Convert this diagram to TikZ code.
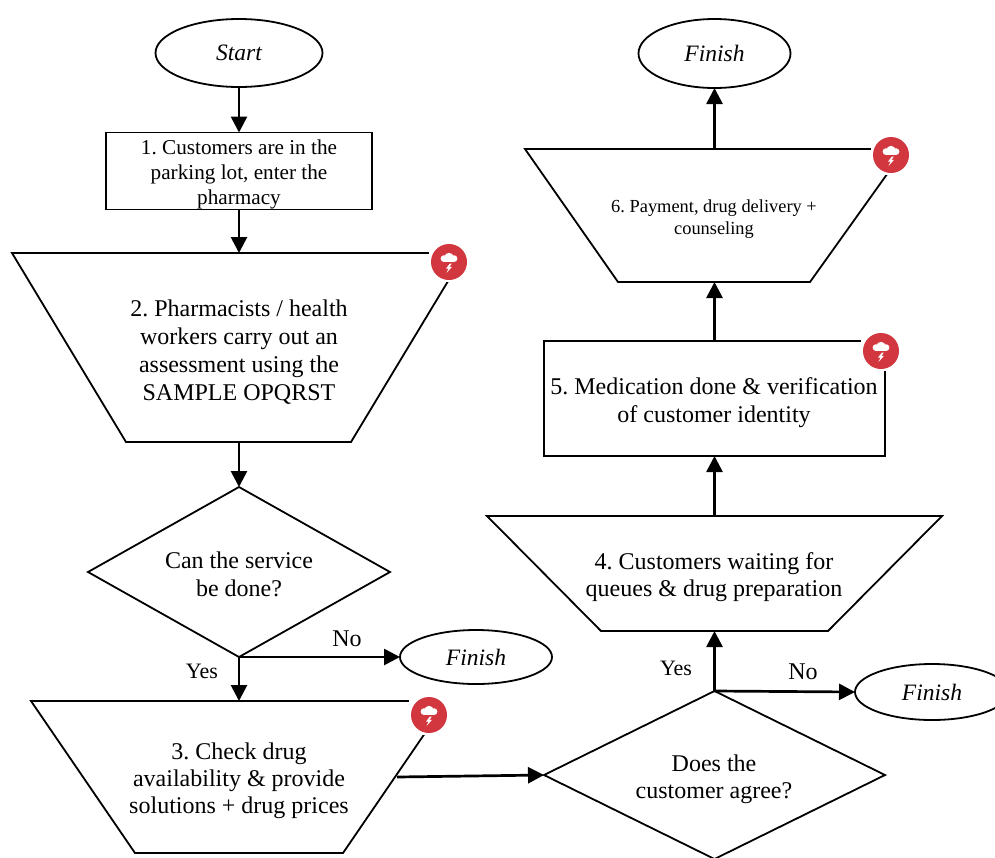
\documentclass[tikz,border=0pt]{standalone}
\usepackage{fontspec}
\setmainfont{Liberation Serif}
\usetikzlibrary{shapes.geometric,arrows.meta}
\definecolor{ICON}{HTML}{D2363E}
\frenchspacing
\tikzset{
  shapeline/.style={draw=black,line width=1.8pt,line join=miter},
  base/.style={align=center,inner sep=0pt,outer sep=0pt,font=\fontsize{24}{28}\selectfont},
  oval/.style={base,ellipse,shapeline,fill=white,font=\fontsize{23.5}{27}\selectfont\itshape},
  boxnode/.style={base,rectangle,shapeline,fill=white},
  choice/.style={base,diamond,shapeline,fill=white},
  zone/.style={base,rectangle},
  flow/.style={line width=2.7pt,-{Triangle[length=16pt,width=16pt]}},
  lab/.style={inner sep=0pt,font=\fontsize{22}{24}\selectfont},
  nolab/.style={inner sep=0pt,font=\fontsize{24}{26}\selectfont},
}
\newcommand{\riskicon}[2]{%
  \begin{scope}[shift={(#1,#2)}]
    \fill[white] (-20,-20) rectangle (20,20);
    \fill[ICON] (0,0) circle (18);
    \fill[white] (-5,-3.4) circle (3.4);
    \fill[white] (0,-4.6) circle (4.6);
    \fill[white] (5,-3.4) circle (3.4);
    \fill[white] (-5,-4) rectangle (5,0);
    \fill[white] (1,1.5) -- (-3,6.5) -- (-0.5,6.5) -- (-2.5,11) -- (3,4.8) -- (0.5,4.8) -- (2.8,1.5) -- cycle;
  \end{scope}}
\begin{document}
\begin{tikzpicture}[x=1pt,y=-1pt]
\useasboundingbox (0,0) rectangle (995,857);
% layout zones for the trapezoids
\node[zone,minimum width=453pt,minimum height=189pt] (t2) at (239,347.5) {};
\node[zone,minimum width=416pt,minimum height=152pt] (t3) at (239,777) {};
\node[zone,minimum width=455pt,minimum height=115pt] (t4) at (714.5,573.5) {};
\node[zone,minimum width=380pt,minimum height=133pt] (t6) at (714.5,215.5) {};
\draw[shapeline] (12,253) -- (465,253) -- (351,442) -- (126,442) -- cycle;
\draw[shapeline] (31,701) -- (447,701) -- (343,853) -- (135,853) -- cycle;
\draw[shapeline] (487,516) -- (942,516) -- (828,631) -- (601,631) -- cycle;
\draw[shapeline] (525,149) -- (905,149) -- (810,282) -- (618,282) -- cycle;
\node[base] (t2text) at (239,352) {2. Pharmacists / health\\workers carry out an\\assessment using the\\SAMPLE OPQRST};
\node[base,font=\fontsize{24}{27}\selectfont] (t3text) at (239,781) {3. Check drug\\availability \& provide\\solutions + drug prices};
\node[base,font=\fontsize{24}{27}\selectfont] (t4text) at (714,577) {4. Customers waiting for\\queues \& drug preparation};
\node[base,font=\fontsize{18.4}{22}\selectfont] (t6text) at (714,219.5) {6. Payment, drug delivery +\\counseling};
% nodes
\node[oval,minimum width=167pt,minimum height=68pt] (start) at (239,53) {Start};
\node[boxnode,minimum width=266pt,minimum height=77pt] (b1) at (239,171) {};
\node[base,font=\fontsize{21.2}{25}\selectfont] (b1text) at (239,174.5) {1. Customers are in the\\parking lot, enter the\\pharmacy};
\node[choice,minimum width=302pt,minimum height=170pt,aspect=1.776] (d1) at (239,572) {};
\node[base] (d1text) at (239,574) {Can the service\\be done?};
\node[oval,minimum width=152pt,minimum height=54pt] (f1) at (476,657) {\raisebox{-2pt}{Finish}};
\node[choice,minimum width=341pt,minimum height=168pt,aspect=2.03] (d2) at (714.5,775) {};
\node[base,font=\fontsize{24}{27}\selectfont] (d2text) at (714,779) {Does the\\customer agree?};
\node[oval,minimum width=154pt,minimum height=56pt] (f2) at (932,692) {Finish};
\node[boxnode,minimum width=341pt,minimum height=115pt] (b5) at (714.5,398.5) {};
\node[base] (b5text) at (714,402.5) {5. Medication done \& verification\\of customer identity};
\node[oval,minimum width=152pt,minimum height=69pt] (f3) at (714.5,53.5) {Finish};
% connectors
\draw[flow] (start.south) -- (b1.north);
\draw[flow] (b1.south) -- (t2.north);
\draw[flow] (t2.south) -- (d1.north);
\draw[flow] (d1.south) -- (t3.north);
\draw[flow] (d1.south) -- (f1.west);
\coordinate (t3out) at (397,777);
\draw[flow] (t3out) -- (d2.west);
\draw[flow] (d2.north) -- (t4.south);
\draw[flow] (d2.north) -- (f2.west);
\draw[flow] (t4.north) -- (b5.south);
\draw[flow] (b5.north) -- (t6.south);
\draw[flow] (t6.north) -- (f3.south);
% labels
\node[lab] (yes1) at (202,671) {Yes};
\node[nolab] (no1) at (347,639) {No};
\node[lab] (yes2) at (676,668) {Yes};
\node[nolab] (no2) at (803,672) {No};
% icons
\riskicon{449}{262}
\riskicon{429}{715}
\riskicon{891}{155}
\riskicon{881}{351}
\end{tikzpicture}
\end{document}
